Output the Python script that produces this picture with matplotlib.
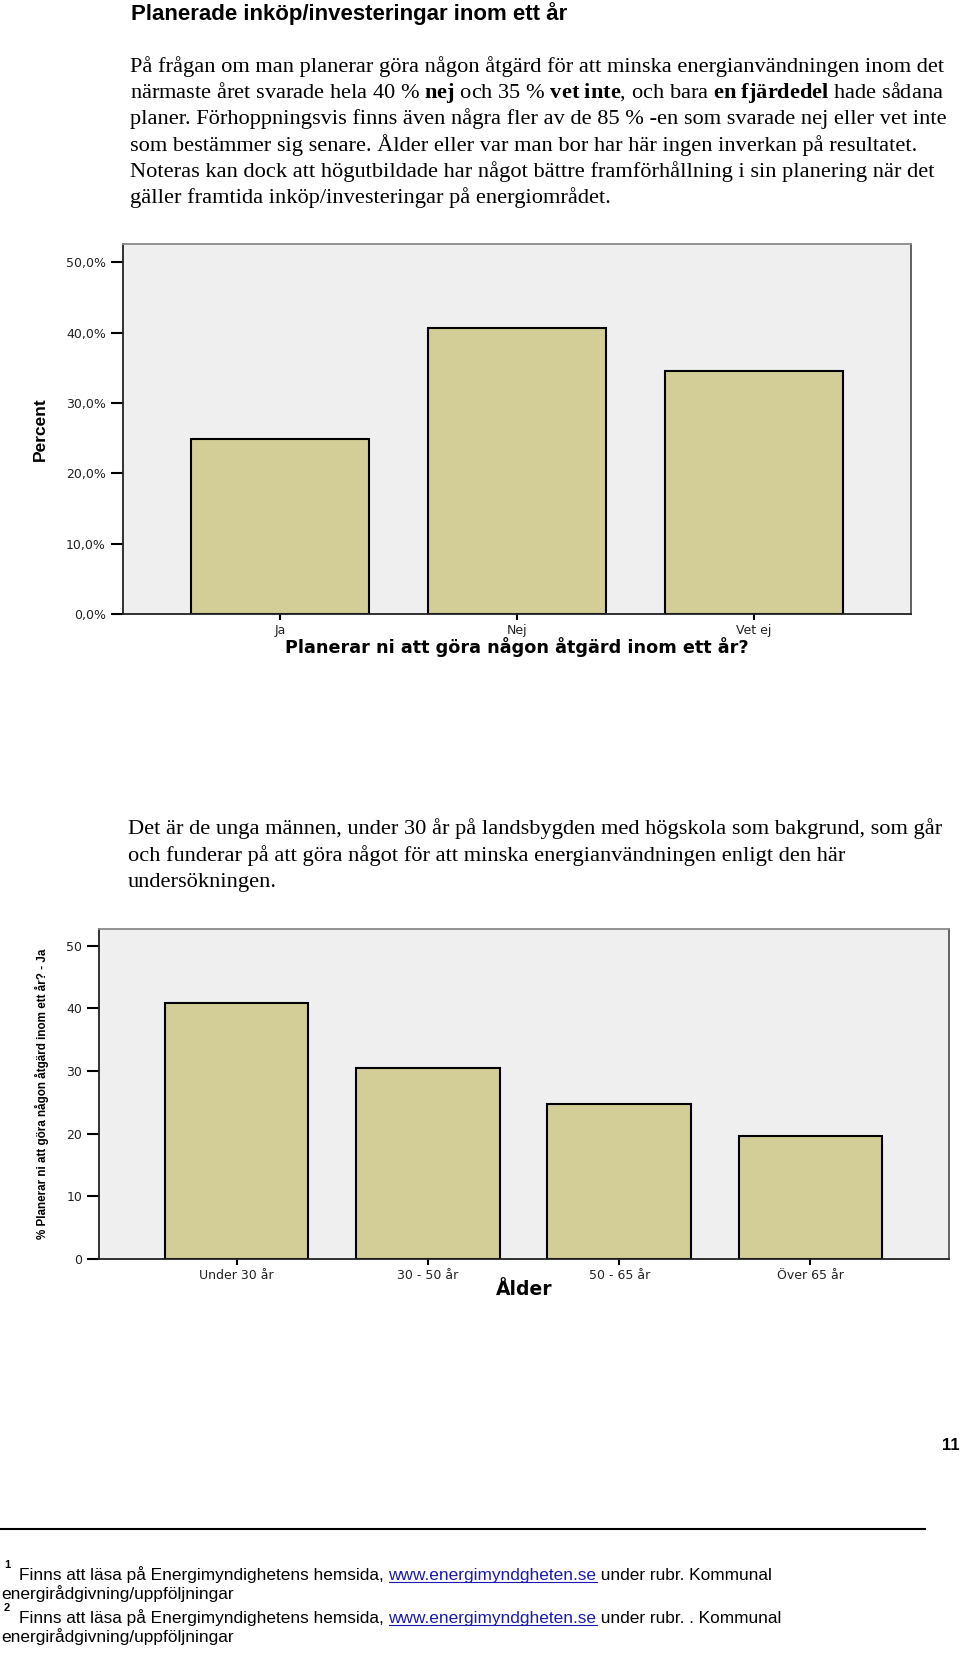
import matplotlib.pyplot as plt
from matplotlib.lines import Line2D

W, H = 960, 1653

# Planerar ni att göra någon åtgärd inom ett år? (percent)
plan_labels = ['Ja', 'Nej', 'Vet ej']
plan_pct = [24.9, 40.6, 34.5]
plan_yticks = [0, 10, 20, 30, 40, 50]
plan_yticklabels = ['0,0%', '10,0%', '20,0%', '30,0%', '40,0%', '50,0%']

# % svarat Ja per åldersgrupp
age_labels = ['Under 30 år', '30 - 50 år', '50 - 65 år', 'Över 65 år']
age_pct_ja = [40.9, 30.5, 24.8, 19.6]
age_yticks = [0, 10, 20, 30, 40, 50]

title = 'Planerade inköp/investeringar inom ett år'
para1 = [
    'På frågan om man planerar göra någon åtgärd för att minska energianvändningen inom det',
    r'närmaste året svarade hela 40 % $\mathbf{nej}$ och 35 % $\mathbf{vet\ inte}$, och bara $\mathbf{en\ fjärdedel}$ hade sådana',
    'planer. Förhoppningsvis finns även några fler av de 85 % -en som svarade nej eller vet inte',
    'som bestämmer sig senare. Ålder eller var man bor har här ingen inverkan på resultatet.',
    'Noteras kan dock att högutbildade har något bättre framförhållning i sin planering när det',
    'gäller framtida inköp/investeringar på energiområdet.',
]
para2 = [
    'Det är de unga männen, under 30 år på landsbygden med högskola som bakgrund, som går',
    'och funderar på att göra något för att minska energianvändningen enligt den här',
    'undersökningen.',
]
fn_pre = 'Finns att läsa på Energimyndighetens hemsida, '
fn_link = 'www.energimyndgheten.se'
fn_post = [' under rubr. Kommunal', ' under rubr. . Kommunal']
fn_second = 'energirådgivning/uppföljningar'

plt.rcParams['mathtext.fontset'] = 'custom'
plt.rcParams['mathtext.rm'] = 'Liberation Serif'
plt.rcParams['mathtext.bf'] = 'Liberation Serif:bold'
plt.rcParams['mathtext.it'] = 'Liberation Serif:italic'

SERIF = 'Liberation Serif'
SANS = 'Liberation Sans'
NARROW = ['Liberation Sans Narrow', 'Liberation Sans']
BAR = '#D3CE97'

fig = plt.figure(figsize=(W / 100, H / 100), dpi=100)


def fx(x):
    return x / W


def fy(y):
    return 1 - y / H


# heading and body text
fig.text(fx(131), fy(20), title, family=SANS, weight='bold', fontsize=16, va='baseline')
for i, line in enumerate(para1):
    fig.text(fx(130), fy(72 + 26.2 * i), line, family=SERIF, fontsize=16.1, va='baseline')
for i, line in enumerate(para2):
    fig.text(fx(128), fy(834 + 26.6 * i), line, family=SERIF, fontsize=16.1, va='baseline')


def style_axes(ax):
    ax.set_facecolor('#EFEFEF')
    for side, col in [('left', '#222222'), ('bottom', '#222222'),
                      ('top', '#8A8A8A'), ('right', '#555555')]:
        ax.spines[side].set_color(col)
        ax.spines[side].set_linewidth(1.3)
    ax.tick_params(axis='y', length=9, width=1.5, pad=3, labelsize=9, labelcolor='#222222')
    ax.tick_params(axis='x', length=4.5, width=1.5, pad=3, labelsize=9, labelcolor='#222222')


# chart 1
ax1 = fig.add_axes([fx(122.7), fy(614), (911 - 122.7) / W, (614 - 244) / H])
ax1.bar(range(len(plan_labels)), plan_pct, width=0.75, color=BAR,
        edgecolor='black', linewidth=1.5)
ax1.set_xlim(-0.663, 2.663)
ax1.set_ylim(0, 52.6)
ax1.set_xticks(range(len(plan_labels)), plan_labels)
ax1.set_yticks(plan_yticks, plan_yticklabels)
style_axes(ax1)
ax1.set_xlabel('Planerar ni att göra någon åtgärd inom ett år?', fontsize=12.7,
               weight='bold', va='center')
ax1.xaxis.set_label_coords(0.5, -0.089)
ax1.set_ylabel('Percent', family=NARROW, weight='bold', fontsize=12.5, va='center')
ax1.yaxis.set_label_coords(-0.105, 0.5)

# chart 2
ax2 = fig.add_axes([fx(99), fy(1259), 850 / W, 330 / H])
ax2.bar(range(len(age_labels)), age_pct_ja, width=0.75, color=BAR,
        edgecolor='black', linewidth=1.5)
ax2.set_xlim(-0.72, 3.725)
ax2.set_ylim(0, 52.66)
ax2.set_xticks(range(len(age_labels)), age_labels)
ax2.set_yticks(age_yticks)
style_axes(ax2)
ax2.set_xlabel('Ålder', fontsize=13.5, weight='bold', va='center')
ax2.xaxis.set_label_coords(0.5, -0.091)
ax2.set_ylabel('% Planerar ni att göra någon åtgärd inom ett år? - Ja', family=NARROW,
               weight='bold', fontsize=8.4, va='center')
ax2.yaxis.set_label_coords(-0.067, 0.5)

# page number and footnotes
fig.text(fx(942), fy(1450), '11', family=SANS, weight='bold', fontsize=12, va='baseline')
fig.add_artist(Line2D([0, fx(925)], [fy(1529), fy(1529)], color='black', linewidth=1.5))

renderer = fig.canvas.get_renderer()


def text_width(s, size):
    t = fig.text(0, 0, s + '|', family=SANS, fontsize=size)
    bar = fig.text(0, 0, '|', family=SANS, fontsize=size)
    w = t.get_window_extent(renderer).width - bar.get_window_extent(renderer).width
    t.remove()
    bar.remove()
    return w


fs = 12.4
for k, base in enumerate([1580, 1623]):
    fig.text(fx(4), fy(base - 12), str(k + 1), family=SANS, weight='bold', fontsize=8,
             va='baseline')
    x0 = 19
    fig.text(fx(x0), fy(base), fn_pre, family=SANS, fontsize=fs, va='baseline')
    xl = x0 + text_width(fn_pre, fs)
    fig.text(fx(xl), fy(base), fn_link, family=SANS, fontsize=fs, va='baseline', color='#1A1AB0')
    wl = text_width(fn_link, fs)
    fig.add_artist(Line2D([fx(xl), fx(xl + wl)], [fy(base + 2), fy(base + 2)],
                          color='#1A1AB0', linewidth=0.8))
    fig.text(fx(xl + wl), fy(base), fn_post[k], family=SANS, fontsize=fs, va='baseline')
    fig.text(fx(1), fy(base + 19), fn_second, family=SANS, fontsize=fs, va='baseline')

fig.savefig('out.png', dpi=100, facecolor='white')
